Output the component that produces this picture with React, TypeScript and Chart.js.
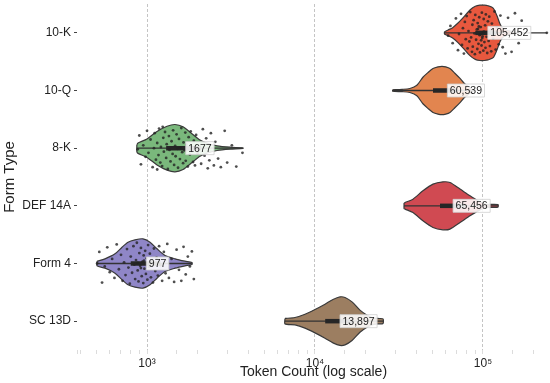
import React, { useEffect, useRef } from 'react';
import { Chart, registerables } from 'chart.js';

Chart.register(...registerables);

const categories = ['10-K', '10-Q', '8-K', 'DEF 14A', 'Form 4', 'SC 13D'];
const violinColors = ['#E8583E', '#E2854F', '#7AB87C', '#D04A52', '#8F86C7', '#9C7E61'];
const medians = [105452, 60539, 1677, 65456, 977, 13897];
const q1s = [90000, 50400, 1300, 55500, 800, 11500];
const q3s = [120000, 70000, 2100, 78000, 1200, 17000];
const whiskerLows = [59000, 29000, 870, 33900, 504, 6630];
const whiskerHighs = [240000, 90000, 3700, 122800, 1850, 25400];

// violin outlines: [token count, half width in category units]
const violin10K = [[59000, 0.02], [62000, 0.05], [66000, 0.09], [71000, 0.17], [76000, 0.26], [84000, 0.4], [90000, 0.46], [96000, 0.48], [102000, 0.48], [107000, 0.47], [115000, 0.43], [121000, 0.3], [126000, 0.16], [130000, 0.09], [137000, 0.05], [145000, 0.03], [160000, 0.0]];
const violin10Q = [[29000, 0.012], [33000, 0.02], [36700, 0.035], [40400, 0.09], [43900, 0.23], [47000, 0.31], [50400, 0.38], [54000, 0.41], [57000, 0.42], [60000, 0.41], [63600, 0.38], [68000, 0.3], [73000, 0.21], [77000, 0.13], [81500, 0.07], [85000, 0.03], [88000, 0.0]];
const violin8K = [[870, 0.06], [884, 0.09], [1000, 0.16], [1147, 0.29], [1316, 0.38], [1468, 0.41], [1638, 0.37], [1852, 0.25], [2067, 0.14], [2307, 0.08], [2610, 0.04], [3120, 0.017], [3727, 0.005]];
const violinDEF14A = [[33900, 0.047], [34400, 0.057], [38300, 0.116], [43900, 0.26], [50400, 0.376], [57800, 0.416], [63600, 0.404], [73000, 0.29], [83700, 0.173], [93400, 0.087], [102800, 0.03], [110100, 0.026], [122800, 0.022]];
const violinForm4 = [[504, 0.04], [562, 0.081], [645, 0.168], [710, 0.283], [771, 0.37], [848, 0.41], [946, 0.428], [1042, 0.37], [1147, 0.255], [1280, 0.139], [1468, 0.081], [1683, 0.04], [1852, 0.017]];
const violinSC13D = [[6630, 0.047], [7600, 0.064], [8720, 0.121], [10000, 0.203], [11470, 0.295], [12800, 0.376], [14090, 0.421], [15090, 0.411], [16610, 0.335], [18520, 0.191], [20400, 0.104], [21850, 0.064], [23710, 0.047], [25400, 0.04]];
const violinProfiles = [violin10K, violin10Q, violin8K, violinDEF14A, violinForm4, violinSC13D];

// jittered observations: [token count, vertical jitter in category units]
const points10K = [[62000, 0.05], [64000, -0.12], [66000, 0.18], [69000, -0.25], [71000, 0.3], [72000, 0.02], [74000, -0.33], [75000, 0.21], [76000, -0.08], [77000, 0.36], [78000, -0.19], [79000, 0.11], [80000, -0.29], [81000, 0.27], [82000, -0.03], [83000, 0.15], [84000, -0.36], [85000, 0.08], [86000, 0.33], [86500, -0.14], [87000, 0.24], [88000, -0.22], [89000, 0.01], [89500, 0.37], [90000, -0.31], [91000, 0.12], [92000, -0.06], [92500, 0.28], [93000, -0.17], [94000, 0.19], [95000, -0.27], [95500, 0.04], [96000, 0.34], [97000, -0.1], [98000, 0.22], [98500, -0.35], [99000, 0.09], [100000, -0.01], [100500, 0.31], [101000, -0.24], [102000, 0.16], [103000, -0.13], [103500, 0.26], [104000, -0.32], [105000, 0.07], [106000, 0.35], [107000, -0.2], [108000, 0.14], [109000, -0.28], [110000, 0.23], [111000, -0.05], [112000, 0.32], [113000, -0.16], [115000, 0.1], [117000, -0.37], [119000, 0.29], [121000, -0.09], [124000, 0.2], [127000, -0.3], [131000, 0.25], [136000, 0.36], [141000, -0.26], [148000, 0.33], [155000, -0.34], [163000, 0.18], [170000, -0.21], [240000, 0.0], [96500, 0.03], [101500, -0.02], [99500, 0.06], [93500, -0.07], [97500, 0.13], [94500, -0.11]];
const points8K = [[880, 0.02], [900, -0.22], [920, 0.28], [950, -0.05], [980, 0.15], [1000, -0.3], [1020, 0.08], [1050, -0.15], [1080, 0.33], [1100, 0.0], [1110, -0.26], [1130, 0.2], [1150, -0.09], [1170, 0.12], [1180, -0.34], [1200, 0.25], [1210, -0.02], [1230, 0.31], [1250, -0.18], [1260, 0.06], [1280, -0.28], [1300, 0.17], [1310, -0.07], [1330, 0.36], [1350, -0.21], [1360, 0.03], [1380, 0.23], [1400, -0.12], [1420, 0.1], [1430, -0.31], [1450, 0.29], [1470, -0.04], [1480, 0.14], [1500, -0.24], [1520, 0.01], [1530, 0.34], [1550, -0.16], [1570, 0.19], [1580, -0.01], [1600, -0.35], [1620, 0.07], [1640, 0.26], [1650, -0.1], [1670, 0.04], [1690, -0.27], [1700, 0.22], [1720, -0.06], [1750, 0.32], [1770, -0.19], [1800, 0.11], [1820, -0.29], [1850, 0.05], [1880, 0.24], [1900, -0.13], [1930, 0.3], [1960, -0.23], [2000, 0.09], [2050, -0.03], [2100, 0.27], [2150, -0.33], [2200, 0.13], [2250, -0.17], [2300, 0.35], [2350, 0.21], [2400, -0.26], [2500, 0.3], [2550, -0.11], [2650, 0.18], [2750, 0.33], [2900, -0.3], [3000, 0.25], [3200, -0.05], [3400, 0.32], [3700, 0.08], [1150, 0.37], [1240, -0.37]];
const pointsForm4 = [[505, 0.0], [520, -0.2], [540, 0.33], [560, 0.05], [580, -0.28], [600, 0.15], [620, -0.08], [640, 0.25], [660, -0.33], [680, 0.1], [700, -0.15], [715, 0.3], [730, -0.02], [745, 0.2], [760, -0.25], [775, 0.07], [790, 0.35], [800, -0.12], [815, 0.16], [830, -0.3], [840, 0.02], [850, 0.27], [860, -0.06], [870, -0.36], [880, 0.12], [890, 0.31], [900, -0.18], [910, 0.04], [920, -0.27], [930, 0.22], [940, -0.03], [950, 0.34], [955, -0.14], [965, 0.09], [975, -0.22], [985, 0.18], [995, -0.09], [1005, 0.28], [1015, -0.32], [1025, 0.06], [1040, -0.17], [1055, 0.24], [1070, -0.04], [1085, 0.33], [1100, -0.26], [1120, 0.13], [1140, -0.1], [1160, 0.21], [1180, -0.3], [1200, 0.03], [1230, 0.3], [1260, -0.2], [1290, 0.17], [1320, -0.34], [1350, 0.25], [1400, -0.08], [1450, 0.32], [1500, -0.24], [1550, 0.11], [1600, 0.3], [1650, -0.29], [1700, 0.19], [1750, -0.12], [1800, 0.05], [1850, -0.21], [1900, 0.27], [880, -0.01], [920, 0.08], [960, -0.05]];
const pointSets = [[0, points10K], [2, points8K], [4, pointsForm4]];

const xMin = 383;
const xMax = 250600;
const FONT = '"Liberation Sans", Arial, Helvetica, sans-serif';
const SUP: Record<number, string> = { 2: '\u00B2', 3: '\u00B3', 4: '\u2074', 5: '\u2075', 6: '\u2076' };

function violinPolygon(profile: number[][], idx: number) {
  const upper = profile.map(([v, w]) => ({ x: v, y: idx - w }));
  const lower = profile.map(([v, w]) => ({ x: v, y: idx + w })).reverse();
  const all = [...upper, ...lower];
  const out: { x: number; y: number }[] = [];
  for (const p of all) {
    const last = out[out.length - 1];
    if (!last || last.x !== p.x || last.y !== p.y) out.push(p);
  }
  out.push({ ...out[0] });
  return out;
}

function formatMedian(m: number) {
  return m >= 10000 ? m.toLocaleString('en-US') : String(m);
}

const medianLabelPlugin = {
  id: 'medianLabels',
  afterDatasetsDraw(chart: any) {
    const { ctx, scales } = chart;
    const xs = scales.x;
    const ys = scales.y;
    ctx.save();
    ctx.font = `10.5px ${FONT}`;
    ctx.textBaseline = 'middle';
    ctx.textAlign = 'left';
    medians.forEach((m, i) => {
      const x = xs.getPixelForValue(m);
      const y = ys.getPixelForValue(i);
      const text = formatMedian(m);
      const tw = ctx.measureText(text).width;
      const bx = x + 1;
      const bw = tw + 5;
      const bh = 13;
      ctx.fillStyle = 'rgba(255,255,255,0.88)';
      ctx.strokeStyle = '#cfcfcf';
      ctx.lineWidth = 0.8;
      ctx.beginPath();
      ctx.rect(bx, y - bh / 2, bw, bh);
      ctx.fill();
      ctx.stroke();
      ctx.fillStyle = '#222';
      ctx.fillText(text, bx + 2.5, y + 0.5);
    });
    ctx.restore();
  },
};

export default function App() {
  const canvasRef = useRef<HTMLCanvasElement | null>(null);

  useEffect(() => {
    const canvas = canvasRef.current;
    if (!canvas) return;

    const datasets: any[] = [];
    violinProfiles.forEach((profile, i) => {
      datasets.push({
        label: categories[i] + ' violin',
        data: violinPolygon(profile, i),
        showLine: true,
        fill: 'shape',
        backgroundColor: violinColors[i],
        borderColor: '#3a3a3a',
        borderWidth: 1.2,
        pointRadius: 0,
        tension: 0.25,
        order: 4,
      });
      datasets.push({
        label: categories[i] + ' whisker',
        data: [{ x: whiskerLows[i], y: i }, { x: whiskerHighs[i], y: i }],
        showLine: true,
        borderColor: '#333333',
        borderWidth: 1.3,
        pointRadius: 0,
        clip: false,
        order: 3,
      });
      datasets.push({
        label: categories[i] + ' box',
        data: [{ x: q1s[i], y: i }, { x: q3s[i], y: i }],
        showLine: true,
        borderColor: '#262626',
        borderWidth: 4.5,
        borderCapStyle: 'butt',
        pointRadius: 0,
        order: 2,
      });
    });
    pointSets.forEach(([idx, pts]: any) => {
      datasets.push({
        label: categories[idx] + ' points',
        data: pts.map(([v, j]: number[]) => ({ x: v, y: idx + j })),
        pointRadius: 1.4,
        pointBackgroundColor: 'rgba(35,35,35,0.8)',
        pointBorderWidth: 0,
        clip: false,
        order: 1,
      });
    });

    const chart = new Chart(canvas, {
      type: 'scatter',
      data: { datasets },
      plugins: [medianLabelPlugin],
      options: {
        responsive: false,
        animation: false,
        events: [],
        layout: { autoPadding: false, padding: { top: 4, right: 0, left: 0, bottom: 0 } },
        plugins: {
          legend: { display: false },
          tooltip: { enabled: false },
        },
        scales: {
          x: {
            type: 'logarithmic',
            min: xMin,
            max: xMax,
            afterFit: (s: any) => {
              s.height = 33;
              s.paddingLeft = 0;
              s.paddingRight = 0;
            },
            grid: {
              color: (c: any) => (c.tick && c.tick.major ? '#c4c4c4' : 'rgba(0,0,0,0)'),
              lineWidth: 1,
              tickColor: '#dcdcdc',
              tickLength: 4,
              drawOnChartArea: true,
            },
            border: { display: false, dash: [3, 2] },
            ticks: {
              autoSkip: false,
              maxRotation: 0,
              padding: 2,
              color: '#222',
              font: { family: FONT, size: 12 },
              callback: (value: any) => {
                const e = Math.log10(Number(value));
                const r = Math.round(e);
                return Math.abs(e - r) < 1e-6 ? '10' + (SUP[r] || '') : '';
              },
            },
            title: {
              display: true,
              text: 'Token Count (log scale)',
              color: '#222',
              font: { family: FONT, size: 14 },
              padding: { top: 0, bottom: 2 },
            },
          },
          y: {
            type: 'linear',
            min: -0.5,
            max: 5.5,
            reverse: true,
            afterFit: (s: any) => {
              s.width = 77;
              s.paddingTop = 0;
              s.paddingBottom = 0;
            },
            afterBuildTicks: (s: any) => {
              s.ticks = categories.map((_, i) => ({ value: i }));
            },
            grid: {
              color: 'rgba(0,0,0,0)',
              drawOnChartArea: false,
              tickColor: '#444',
              tickLength: 3,
              tickWidth: 1,
            },
            border: { display: false },
            ticks: {
              padding: 3,
              color: '#222',
              font: { family: FONT, size: 12 },
              callback: (value: any) => categories[Math.round(Number(value))] ?? '',
            },
            title: {
              display: true,
              text: 'Form Type',
              color: '#222',
              font: { family: FONT, size: 15 },
              padding: { top: 1, bottom: 0 },
            },
          },
        },
      } as any,
    });

    return () => {
      chart.destroy();
    };
  }, []);

  return (
    <div style={{ position: 'absolute', left: 0, top: 0, width: 550, height: 383, background: '#fff' }}>
      <canvas ref={canvasRef} width={550} height={383} style={{ display: 'block' }} />
    </div>
  );
}
